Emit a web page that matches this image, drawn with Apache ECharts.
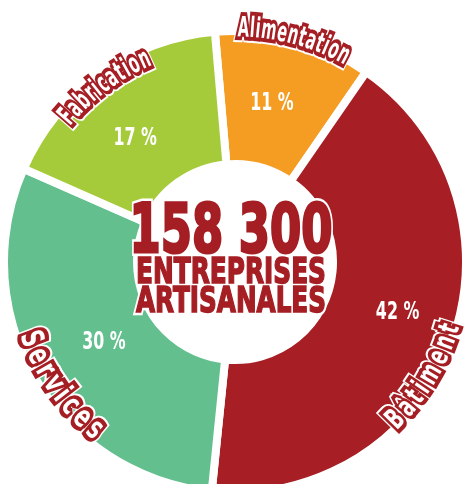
<!DOCTYPE html>
<html><head><meta charset="utf-8">
<script src="https://cdn.jsdelivr.net/npm/echarts@6/dist/echarts.min.js"></script>
<style>html,body{margin:0;padding:0;background:#fff}#c{width:466px;height:484px}</style>
</head><body><div id="c"></div>
<script>
// ---- data ----
const categories = ['Alimentation', 'Bâtiment', 'Services', 'Fabrication'];
const shares = [11, 42, 30, 17];
const totalValue = '158 300';
const titleLines = ['ENTREPRISES', 'ARTISANALES'];

// ---- styles ----
const colors = ['#F59D22', '#A71F24', '#63BF8E', '#A5CB3A'];
const RED = '#A51E23';
const FONT = '"DejaVu Sans", sans-serif';
const CX = 235, CY = 262, R_OUT = 227, R_IN = 102, GAP = 8;
const nameStyle = [
  {R: 233, off: 0,   span: 28.5, fs: 28, sx: 0.52, up: 'out'},
  {R: 226, off: 11,  span: 31,   fs: 29, sx: 0.62, up: 'in'},
  {R: 219, off: -5,  span: 34,   fs: 31, sx: 0.66, up: 'in'},
  {R: 221, off: -1,  span: 28,   fs: 28, sx: 0.52, up: 'out'}
];
const pctStyle = [
  {r: 164, off: -1.8}, {r: 170, off: -3.2}, {r: 153, off: -0.8}, {r: 160, off: -3}
];

const chart = echarts.init(document.getElementById('c'), null, {renderer: 'canvas'});
chart.setOption({
  animation: false,
  series: [{
    type: 'pie',
    center: [CX, CY],
    radius: [R_IN - GAP / 2, R_OUT + GAP / 2],
    startAngle: 95,
    clockwise: true,
    silent: true,
    label: {show: false},
    labelLine: {show: false},
    emphasis: {disabled: true},
    itemStyle: {borderColor: '#fff', borderWidth: GAP},
    data: categories.map((n, i) => ({name: n, value: shares[i], itemStyle: {color: colors[i]}}))
  }]
});

const mctx = document.createElement('canvas').getContext('2d');
function measure(t, fs) { mctx.font = 'bold ' + fs + 'px ' + FONT; return mctx.measureText(t).width; }
function txt(t, x, y, fs, sx, rot, fill, stroke, lw, z) {
  const style = {text: t, fill: fill, font: 'bold ' + fs + 'px ' + FONT, align: 'center', verticalAlign: 'middle',
                 textAlign: 'center', textVerticalAlign: 'middle'};
  if (stroke) { style.stroke = stroke; style.lineWidth = lw; style.lineJoin = 'round'; }
  return {type: 'text', x: x, y: y, rotation: rot, scaleX: sx, scaleY: 1, z: z, silent: true, style: style};
}

let lay = null;
try {
  const d = chart.getModel().getSeriesByIndex(0).getData();
  lay = categories.map((_, i) => { const l = d.getItemLayout(i); return {s: l.startAngle, e: l.endAngle}; });
  if (!isFinite(lay[0].s) || !isFinite(lay[0].e)) lay = null;
} catch (e) { lay = null; }
if (!lay) {
  const tot = shares.reduce((a, b) => a + b, 0);
  let a = -95 * Math.PI / 180;
  lay = shares.map(v => { const s = a; a += v / tot * 2 * Math.PI; return {s: s, e: a}; });
}

const els = [];
// percentage labels
categories.forEach((n, i) => {
  const p = pctStyle[i];
  const mid = (lay[i].s + lay[i].e) / 2 + p.off * Math.PI / 180;
  els.push(txt(shares[i] + ' %', CX + p.r * Math.cos(mid), CY + p.r * Math.sin(mid) + 1.5, 24, 0.66, 0, '#fff', null, 0, 15));
});
// curved category names
categories.forEach((name, i) => {
  const st = nameStyle[i];
  const mid = (lay[i].s + lay[i].e) / 2 + st.off * Math.PI / 180;
  const chars = Array.from(name);
  const ws = chars.map(c => measure(c, st.fs) * st.sx);
  const W = ws.reduce((a, b) => a + b, 0);
  const L = st.span * Math.PI / 180 * st.R;
  const extra = (L - W) / chars.length;
  const dir = st.up === 'out' ? 1 : -1;
  let acc = -L / 2;
  chars.forEach((c, k) => {
    const adv = ws[k] + extra;
    const s = acc + adv / 2; acc += adv;
    const th = mid + dir * s / st.R;
    const x = CX + st.R * Math.cos(th), y = CY + st.R * Math.sin(th);
    const rot = st.up === 'out' ? Math.atan2(-Math.cos(th), -Math.sin(th)) : Math.atan2(Math.cos(th), Math.sin(th));
    els.push(txt(c, x, y, st.fs, st.sx, rot, '#fff', '#fff', st.fs * 0.42, 20));
    els.push(txt(c, x, y, st.fs, st.sx, rot, RED, RED, st.fs * 0.28, 21));
    els.push(txt(c, x, y, st.fs, st.sx, rot, '#fff', null, 0, 22));
  });
});
// centre text
const centre = [
  {t: totalValue, y: 230, fs: 68, w: 203, bw: 3},
  {t: titleLines[0], y: 271, fs: 35, w: 190, bw: 1.6},
  {t: titleLines[1], y: 300.5, fs: 35, w: 190, bw: 1.6}
];
centre.forEach(c => {
  const sx = c.w / measure(c.t, c.fs);
  const y = c.y + c.fs * 0.07;
  els.push(txt(c.t, 231, y, c.fs, sx, 0, '#fff', '#fff', c.bw + 5, 30));
  els.push(txt(c.t, 231, y, c.fs, sx, 0, RED, RED, c.bw, 31));
});
chart.setOption({graphic: {elements: els}});
</script></body></html>
